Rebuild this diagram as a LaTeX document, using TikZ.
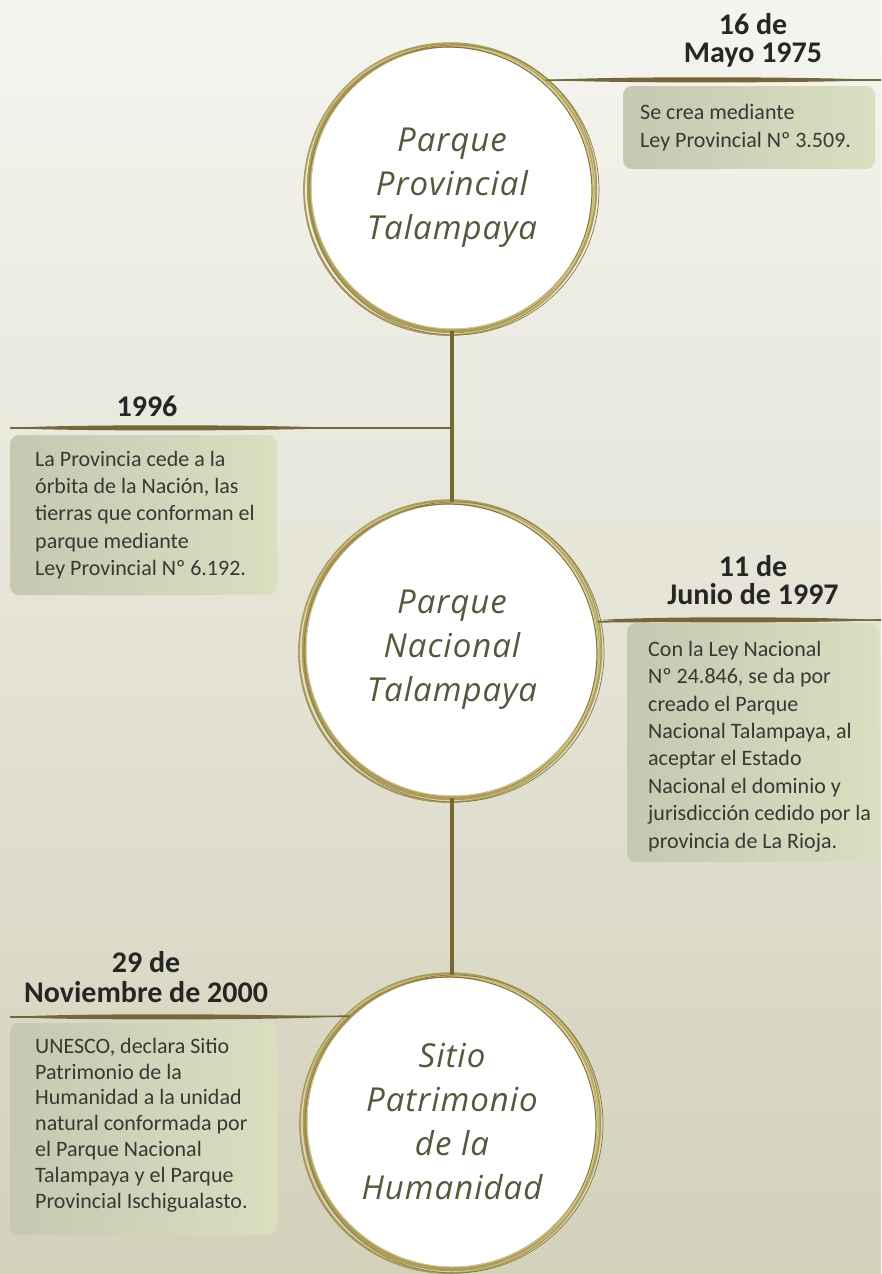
\documentclass[tikz,border=0pt]{standalone}
\usepackage{fontspec}
\setmainfont{Carlito}
\newfontfamily\hand[LetterSpace=3]{Open Sans}
\usetikzlibrary{calc}
\definecolor{bgtop}{HTML}{F5F5F0}
\definecolor{bgbot}{HTML}{D3D1BA}
\definecolor{gold}{HTML}{AB9C5C}
\definecolor{goldlt}{HTML}{CFC388}
\definecolor{golddk}{HTML}{877839}
\definecolor{stem}{HTML}{766830}
\definecolor{armc}{HTML}{74673A}
\definecolor{boxl}{HTML}{C6C8B1}
\definecolor{boxr}{HTML}{DADFC0}
\definecolor{headc}{HTML}{262626}
\definecolor{bodyc}{HTML}{383834}
\definecolor{handc}{HTML}{55583A}
\newcommand\brushstroke[3]{% x1, x2, y
  \fill[armc] (#1,#3) .. controls ($(#1,#3)+(50,-3.6)$) and ($(#2,#3)+(-70,-3.6)$) .. (#2,#3)
     .. controls ($(#2,#3)+(-70,3.2)$) and ($(#1,#3)+(50,3.2)$) .. cycle;}
\begin{document}
\begin{tikzpicture}[x=1pt,y=-1pt,
  stage/.style={circle, fill=white, minimum size=#1, inner sep=0pt, outer sep=0pt,
    font=\hand\itshape\fontsize{33}{44}\selectfont, text=handc, align=center},
  stemline/.style={draw=stem, line width=4pt},
  arm/.style={draw=armc, line width=1.6pt},
  box/.style={rounded corners=9pt, left color=boxl, right color=boxr, inner sep=0pt,
    outer sep=0pt, anchor=north west},
  boxtext/.style={font=\fontsize{22}{27.4}\selectfont, text=bodyc, align=left,
    inner sep=0pt, anchor=west},
  head/.style={font=\bfseries\fontsize{30}{28.5}\selectfont, text=headc, align=center,
    inner sep=0pt, anchor=south, text depth=0pt}
]
\useasboundingbox (0,0) rectangle (881,1274);
\shade[top color=bgtop, bottom color=bgbot] (0,0) rectangle (881,1274);

% circles
\node[stage=286pt] (c1) at (452,188) {Parque\\Provincial\\Talampaya};
\node[stage=296pt] (c2) at (452,650) {Parque\\Nacional\\Talampaya};
\node[stage=294pt] (c3) at (452,1122) {Sitio\\Patrimonio\\de la\\Humanidad};

\foreach \c/\r in {c1/143, c2/148, c3/147} {
  \draw[gold, line width=4.5pt] (\c.center) circle[radius=\r pt];
  \draw[golddk, line width=1.2pt] ($(\c.center)+(-4,3)$) circle[radius=\r pt+1pt];
  \draw[goldlt, line width=1.4pt] ($(\c.center)+(-3,2)$) circle[radius=\r pt+1.5pt];
  \draw[gold, line width=1.4pt] ($(\c.center)+(-2,1)$) circle[radius=\r pt+3pt];
  \draw[goldlt, line width=1pt] ($(\c.center)+(1,-1)$) circle[radius=\r pt-1pt];
  \draw[golddk, line width=0.7pt] ($(\c.center)+(2,2)$) circle[radius=\r pt+2pt];
}

% vertical connectors
\draw[stemline] (c1.south) -- (c2.north);
\draw[stemline] (c2.south) -- (c3.north);

% horizontal arms
\coordinate (e1) at (881,80);
\coordinate (e2) at (10,428);
\coordinate (e3) at (881,620);
\coordinate (e4) at (10,1017);
\draw[arm] (c1.49) -- (e1);
\draw[arm] (e2) -- (e2 -| c1.south);
\draw[arm] (c2.11.7) -- (e3);
\draw[arm] (e4) -- (c3.134.4);
\brushstroke{550}{878}{80}
\brushstroke{10}{334}{428}
\brushstroke{600}{880}{620}
\brushstroke{10}{330}{1017}

% boxes
\node[box, minimum width=252pt, minimum height=83pt] (b1) at (623,86) {};
\node[boxtext] (t1) at ([xshift=17pt]b1.west) {Se crea mediante\\Ley Provincial Nº 3.509.};

\node[box, minimum width=267pt, minimum height=160pt] (b2) at (10,435) {};
\node[boxtext] (t2) at ([xshift=25pt]b2.west) {La Provincia cede a la\\órbita de la Nación, las\\tierras que conforman el\\parque mediante\\Ley Provincial Nº 6.192.};

\node[box, minimum width=252pt, minimum height=239pt] (b3) at (627,623) {};
\node[boxtext] (t3) at ([xshift=21pt,yshift=-4pt]b3.west) {Con la Ley Nacional\\Nº 24.846, se da por\\creado el Parque\\Nacional Talampaya, al\\aceptar el Estado\\Nacional el dominio y\\jurisdicción cedido por la\\provincia de La Rioja.};

\node[box, minimum width=267pt, minimum height=212pt] (b4) at (10,1023) {};
\node[boxtext, font=\fontsize{22}{25.8}\selectfont] (t4) at ([xshift=25pt,yshift=4pt]b4.west) {UNESCO, declara Sitio\\Patrimonio de la\\Humanidad a la unidad\\natural conformada por\\el Parque Nacional\\Talampaya y el Parque\\Provincial Ischigualasto.};

% headings
\node[head] (h1) at (753,63) {16 de\\Mayo 1975};
\node[head] (h2) at (147,417) {1996};
\node[head] (h3) at (753,605) {11 de\\Junio de 1997};
\node[head, font=\bfseries\fontsize{30}{30}\selectfont] (h4) at (146,1003) {29 de\\Noviembre de 2000};
\end{tikzpicture}
\end{document}
